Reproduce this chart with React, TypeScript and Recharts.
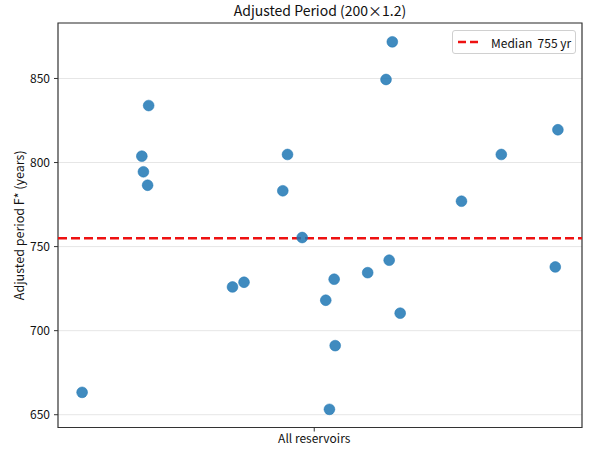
import { ScatterChart, Scatter, XAxis, YAxis, CartesianGrid, ReferenceLine, ReferenceArea } from 'recharts';

// horizontal jitter (within the single category) and adjusted period F* in years
const jitter = [
  -0.443, -0.316, -0.329, -0.326, -0.318, -0.156, -0.134, -0.06, -0.051, -0.023, 0.022, 0.029,
  0.038, 0.04, 0.102, 0.137, 0.149, 0.143, 0.164, 0.281, 0.357, 0.46, 0.465,
];
const periods = [
  663.3, 833.9, 803.8, 794.5, 786.5, 726.0, 728.8, 783.2, 804.8, 755.4, 718.1, 653.2,
  730.6, 691.1, 734.5, 849.4, 871.8, 741.9, 710.4, 777.0, 804.8, 737.9, 819.5,
];
const yTicks = [650, 700, 750, 800, 850];
const category = 'All reservoirs';
const median = 755;

const points = periods.map((v, i) => ({ x: jitter[i], y: v }));

const X_DOMAIN: [number, number] = [-0.489, 0.511];
const Y_DOMAIN: [number, number] = [642.4, 883];
const FONT = '"Noto Sans CJK KR", "Open Sans", sans-serif';

const Dot = (props: any) => (
  <circle cx={props.cx} cy={props.cy} r={5.4} fill="#1f77b4" fillOpacity={0.85} stroke="#1f77b4" strokeOpacity={0.9} strokeWidth={0.6} />
);

export default function App() {
  return (
    <div style={{ position: 'absolute', left: 0, top: 0, width: 594, height: 457, background: '#fff' }}>
      <div
        style={{
          position: 'absolute',
          left: 58,
          width: 524,
          top: 0,
          textAlign: 'center',
          fontFamily: FONT,
          fontSize: 14,
          color: '#111',
          lineHeight: '20px',
        }}
      >
        Adjusted Period (200×1.2)
      </div>
      <ScatterChart width={594} height={457} margin={{ top: 23, right: 12, bottom: 0, left: 0 }}>
        <CartesianGrid vertical={false} stroke="#e6e6e6" strokeWidth={1} />
        <XAxis
          type="number"
          dataKey="x"
          domain={X_DOMAIN}
          ticks={[0]}
          tickFormatter={() => category}
          height={29.5}
          axisLine={false}
          tickSize={4}
          tickMargin={3}
          tickLine={{ stroke: '#333' }}
          tick={{ fill: '#111', fontSize: 12, fontFamily: FONT }}
          allowDataOverflow
        />
        <YAxis
          type="number"
          dataKey="y"
          domain={Y_DOMAIN}
          ticks={yTicks}
          width={58}
          axisLine={false}
          tickSize={4}
          tickMargin={4}
          tickLine={{ stroke: '#333' }}
          tick={{ fill: '#111', fontSize: 12, fontFamily: FONT }}
          allowDataOverflow
          label={{
            content: ({ viewBox }: any) => {
              const cx = viewBox.x + 18;
              const cy = viewBox.y + viewBox.height / 2;
              return (
                <text x={cx} y={cy} transform={`rotate(-90 ${cx} ${cy})`} textAnchor="middle" dominantBaseline="central" fill="#111" fontSize={12.5} fontFamily={FONT}>
                  Adjusted period F* (years)
                </text>
              );
            },
          }}
        />
        <ReferenceLine y={median} stroke="#ee1111" strokeWidth={2.5} strokeDasharray="9 4" />
        <Scatter data={points} shape={Dot} isAnimationActive={false} />
        <ReferenceArea x1={X_DOMAIN[0]} x2={X_DOMAIN[1]} y1={Y_DOMAIN[0]} y2={Y_DOMAIN[1]} fill="none" stroke="#333" strokeWidth={1.2} ifOverflow="extendDomain" />
      </ScatterChart>
      <div
        style={{
          position: 'absolute',
          left: 452,
          top: 30,
          border: '1px solid #d0d0d0',
          borderRadius: 3,
          background: 'rgba(255,255,255,0.8)',
          width: 124,
          height: 24,
          display: 'flex',
          alignItems: 'center',
          fontFamily: FONT,
          fontSize: 12,
          color: '#111',
          boxSizing: 'border-box',
        }}
      >
        <svg width={34} height={10} style={{ marginLeft: 4 }}>
          <line x1={1} y1={5} x2={24} y2={5} stroke="#ee1111" strokeWidth={2.5} strokeDasharray="8 4" />
        </svg>
        <span style={{ whiteSpace: 'pre' }}>{`Median  ${median} yr`}</span>
      </div>
    </div>
  );
}
